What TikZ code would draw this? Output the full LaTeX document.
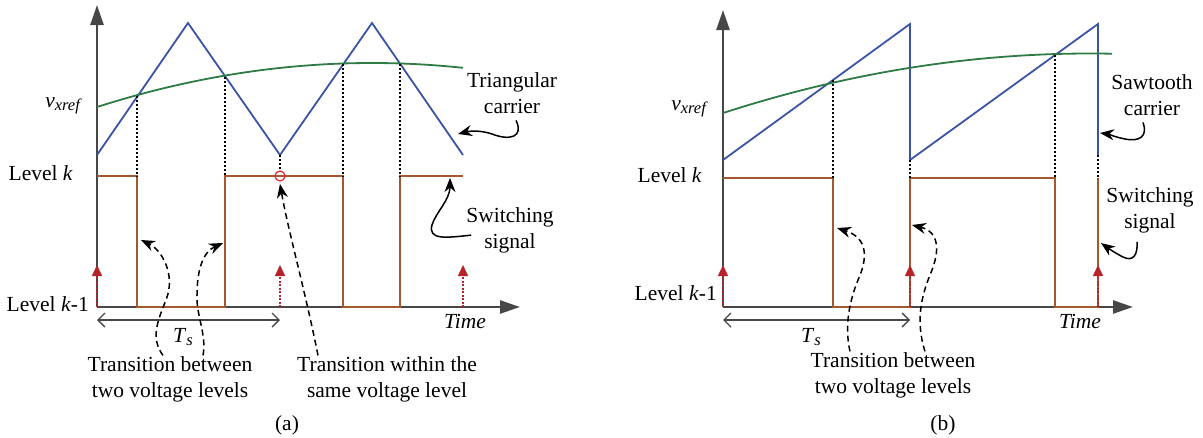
\documentclass[tikz,border=0pt]{standalone}
\usepackage{fontspec}
\setmainfont{Liberation Serif}
\usetikzlibrary{arrows.meta, positioning}

\definecolor{axisgray}{HTML}{474747}
\definecolor{carblue}{HTML}{3A53A4}
\definecolor{refgreen}{HTML}{2E7B45}
\definecolor{swbrown}{HTML}{A5582E}
\definecolor{tickred}{HTML}{B8232B}
\definecolor{circred}{HTML}{E8262B}

\newcommand{\lowsub}[1]{\raisebox{-0.32ex}{\fontsize{16.5}{16.5}\selectfont\textit{#1}}}

\begin{document}
\begin{tikzpicture}[x=1pt, y=-1pt,
    every node/.style={font=\fontsize{21.5}{25.5}\selectfont, inner sep=1pt},
    lbl/.style={align=center},
    axis/.style={draw=axisgray, line width=2.5pt, -{Triangle[length=20pt, width=13pt]}},
    carrier/.style={draw=carblue, line width=1.8pt},
    ref/.style={draw=refgreen, line width=1.8pt},
    sw/.style={draw=swbrown, line width=1.8pt},
    guide/.style={draw=black, line width=1.5pt, dash pattern=on 2pt off 2pt},
    tick/.style={draw=tickred, line width=1.5pt, dash pattern=on 2pt off 1.5pt,
                 -{Triangle[length=11pt, width=10pt]}},
    period/.style={draw=axisgray, line width=1.4pt,
                   {Straight Barb[length=7pt, width=14pt]}-{Straight Barb[length=7pt, width=14pt]}},
    note/.style={draw=black, line width=1.5pt, -{Stealth[length=14pt, width=11pt]}},
    dnote/.style={note, dash pattern=on 6pt off 4pt}
  ]
  \useasboundingbox (0,0) rectangle (1203,437);

  % ---------- (a) triangular carrier ----------
  \coordinate (oa) at (97,307);
  \coordinate (ya) at (97,5);
  \coordinate (xa) at (520,307);
  \draw[axis] (oa) -- (ya);
  \draw[axis] (oa) -- (xa);

  \draw[sw] (97,176) -- (137,176) -- (137,307) -- (225,307) -- (225,176)
            -- (343,176) -- (343,307) -- (400,307) -- (400,176) -- (463,176);
  \draw[carrier] (97,155) -- (188,23) -- (280,155) -- (372,23) -- (463,155);
  \draw[ref] plot[domain=97:463, samples=60] (\x, {5.82*((\x-372)/100)^2+63});

  \foreach \xx/\yy in {137/95.6, 225/76.5, 343/63.6, 400/63.6}
    \draw[guide] (\xx,\yy) -- (\xx,176);
  \draw[guide] (280,155) -- (280,171);
  \draw[circred, line width=1.2pt] (280,176) circle (5);

  \foreach \xx in {97,280,463}
    \draw[tick] (\xx,307) -- (\xx,265);

  \coordinate (tsa1) at (97,320);
  \coordinate (tsa2) at (280,320);
  \draw[period] (tsa1) -- (tsa2);
  \node[anchor=base] (tsa) at (183,342) {\textit{T}\lowsub{s}};
  \node[anchor=base] (tma) at (465,328) {\textit{Time}};

  \node[anchor=base east] (vra) at (83,107) {\textit{v}\lowsub{xref}};
  \node[anchor=base east] (lka) at (74,180) {Level \textit{k}};
  \node[anchor=base east] (lla) at (90,311) {Level \textit{k}-1};

  \node[lbl, anchor=base] (tca) at (512,113) {Triangular\\carrier};
  \node[lbl, anchor=base] (swa) at (510,248) {Switching\\signal};
  \node[lbl, anchor=base] (tba) at (170,397) {Transition between\\two voltage levels};
  \node[lbl, anchor=base] (twa) at (387,397) {Transition within the\\same voltage level};
  \node[anchor=base] (capa) at (287,430) {(a)};

  \coordinate (tcaTip) at (458,134);
  \coordinate (swaTip) at (450,178);
  \coordinate (tbaTipA) at (141,240);
  \coordinate (tbaTipB) at (223,243);
  \coordinate (twaTip) at (280,184);

  \draw[note] ([xshift=4pt, yshift=-6pt]tca.south) .. controls (524,137) and (510,141) .. (492,134)
              .. controls (480,130) and (470,131) .. (tcaTip);
  \draw[note] ([xshift=6pt, yshift=-5pt]swa.west) .. controls (445,238) and (428,240) .. (432,225)
              .. controls (436,212) and (450,200) .. (swaTip);
  \draw[dnote] ([xshift=-7pt]tba.north) .. controls (150,338) and (158,320) .. (166,300)
               .. controls (176,275) and (162,250) .. (tbaTipA);
  \draw[dnote] ([xshift=33pt]tba.north) .. controls (207,335) and (196,315) .. (197,295)
               .. controls (197,270) and (203,252) .. (tbaTipB);
  \draw[dnote] ([xshift=-69pt]twa.north) .. controls (305,290) and (288,230) .. (twaTip);

  % ---------- (b) sawtooth carrier ----------
  \coordinate (ob) at (723,307);
  \coordinate (yb) at (723,10);
  \coordinate (xb) at (1133,307);
  \draw[axis] (ob) -- (yb);
  \draw[axis] (ob) -- (xb);

  \draw[sw] (723,178) -- (833,178) -- (833,307) -- (910,307) -- (910,178)
            -- (1055,178) -- (1055,307) -- (1098,307) -- (1098,178);
  \draw[carrier] (723,160) -- (910,24) -- (910,160) -- (1098,24) -- (1098,155);
  \draw[ref] plot[domain=723:1112, samples=60] (\x, {4.42*((\x-1090)/100)^2+53.5});

  \foreach \xx/\yy in {833/80, 910/160, 1055/54.5, 1098/155}
    \draw[guide] (\xx,\yy) -- (\xx,178);

  \foreach \xx in {723,910,1098}
    \draw[tick] (\xx,307) -- (\xx,265);

  \coordinate (tsb1) at (723,320);
  \coordinate (tsb2) at (910,320);
  \draw[period] (tsb1) -- (tsb2);
  \node[anchor=base] (tsb) at (811,342) {\textit{T}\lowsub{s}};
  \node[anchor=base] (tmb) at (1080,328) {\textit{Time}};

  \node[anchor=base east] (vrb) at (709,110) {\textit{v}\lowsub{xref}};
  \node[anchor=base east] (lkb) at (703,182) {Level \textit{k}};
  \node[anchor=base east] (llb) at (718,300) {Level \textit{k}-1};

  \node[lbl, anchor=base] (scb) at (1152,115) {Sawtooth\\carrier};
  \node[lbl, anchor=base] (ssb) at (1150,228) {Switching\\signal};
  \node[lbl, anchor=base] (tbb) at (893,393) {Transition between\\two voltage levels};
  \node[anchor=base] (capb) at (943,430) {(b)};

  \coordinate (scbTip) at (1100,133);
  \coordinate (ssbTip) at (1101,243);
  \coordinate (tbbTipA) at (837,228);
  \coordinate (tbbTipB) at (912,225);

  \draw[note] ([xshift=-9pt, yshift=-6pt]scb.south) .. controls (1148,136) and (1140,142) .. (1125,139)
              .. controls (1115,137) and (1108,134) .. (scbTip);
  \draw[note] ([xshift=-13pt, yshift=-8pt]ssb.south) .. controls (1138,255) and (1133,262) .. (1123,257)
              .. controls (1115,253) and (1108,248) .. (ssbTip);
  \draw[dnote] ([xshift=-43pt]tbb.north) .. controls (844,325) and (850,300) .. (858,280)
               .. controls (868,258) and (868,238) .. (tbbTipA);
  \draw[dnote] ([xshift=32pt]tbb.north) .. controls (915,320) and (922,295) .. (930,275)
               .. controls (940,252) and (940,232) .. (tbbTipB);
\end{tikzpicture}
\end{document}
